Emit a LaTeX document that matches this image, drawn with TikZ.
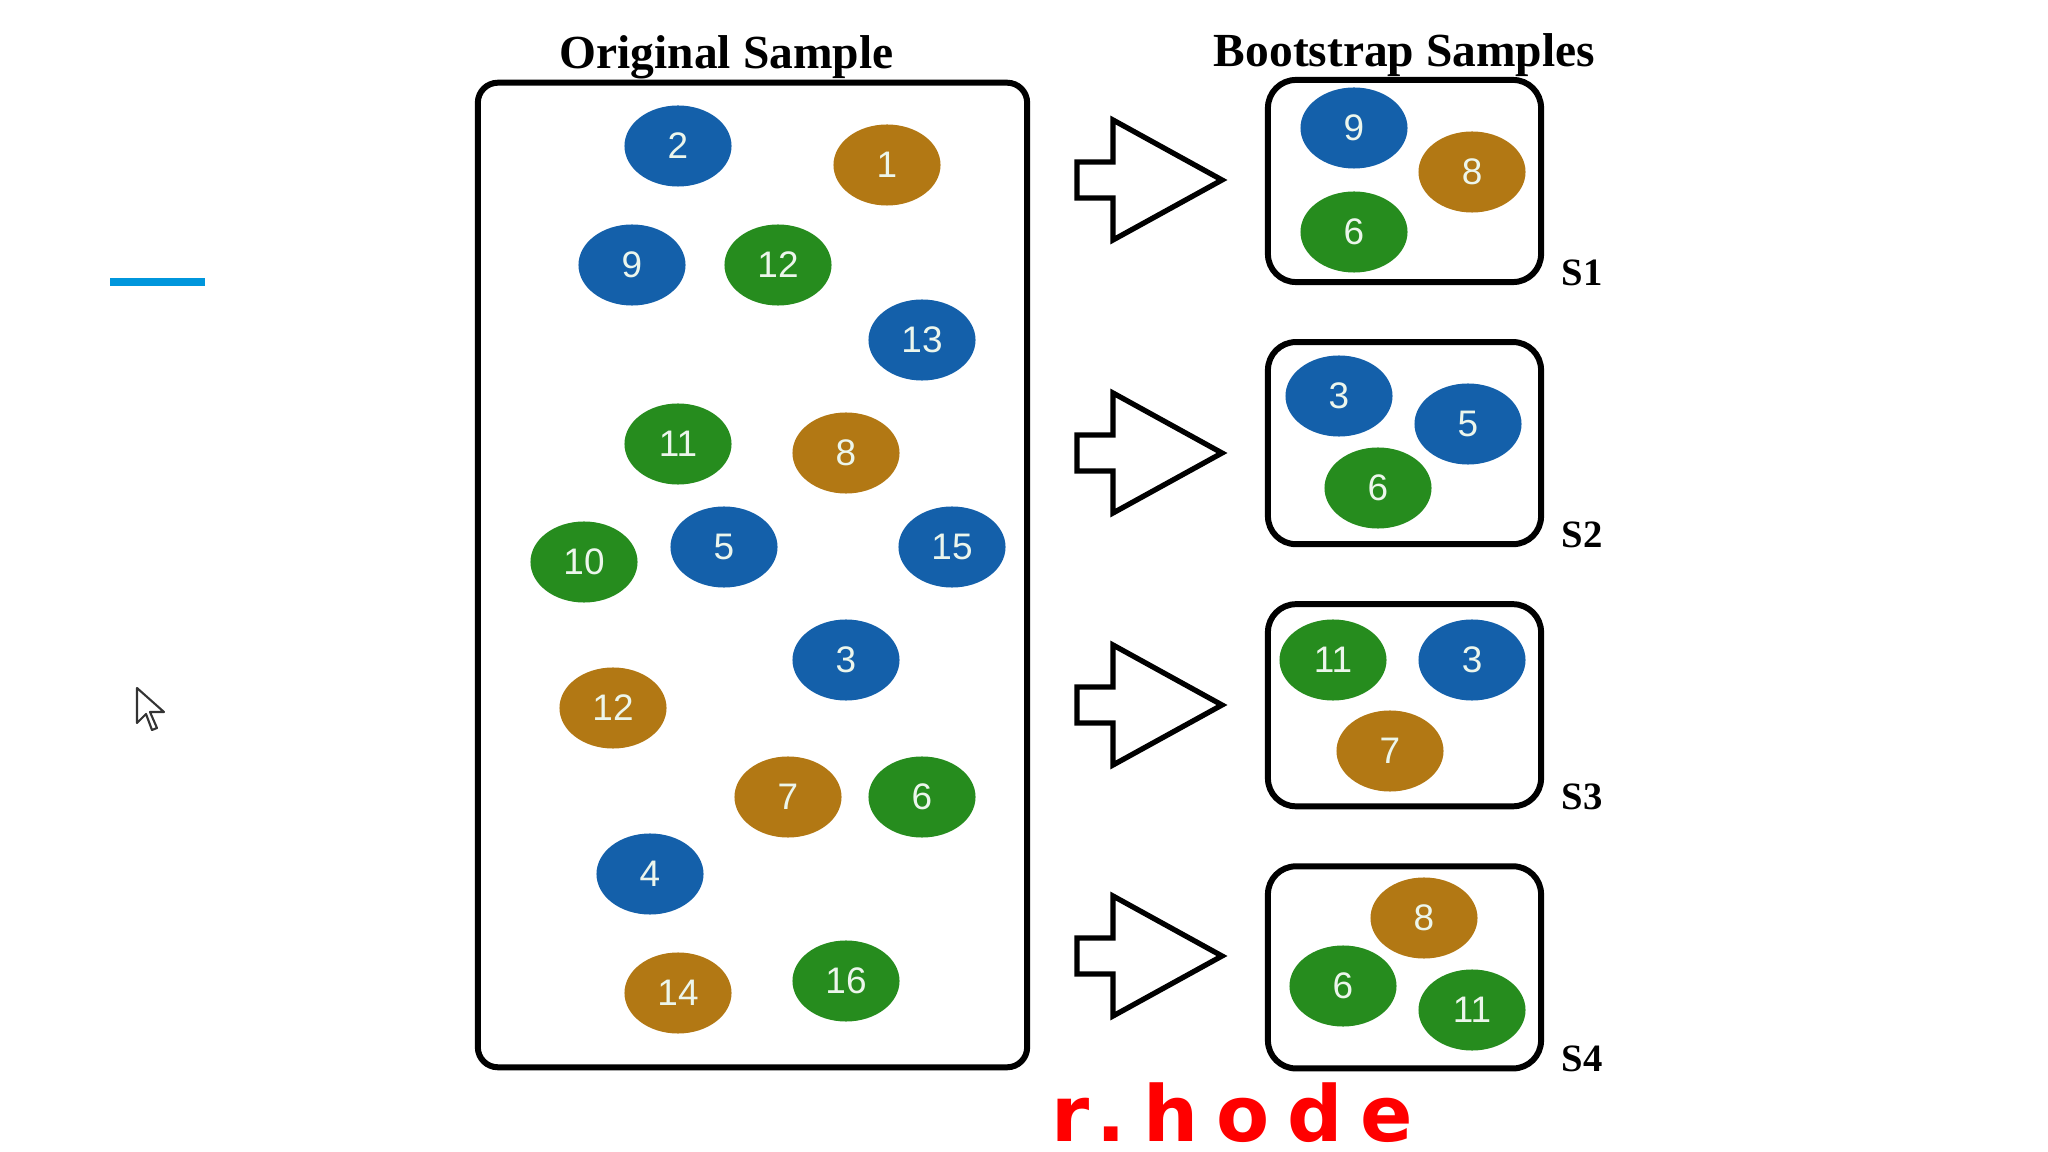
\documentclass[tikz,border=0pt]{standalone}
\usepackage{fontspec}
\setmainfont{Liberation Serif}
\newfontfamily\ballfont{Liberation Sans}
\newfontfamily\handfont{DejaVu Sans}
\usetikzlibrary{positioning, shapes.geometric}

\definecolor{ballblue}{RGB}{20,96,170}
\definecolor{ballbrown}{RGB}{178,120,20}
\definecolor{ballgreen}{RGB}{38,140,30}
\definecolor{barblue}{RGB}{0,150,220}
\definecolor{numtext}{RGB}{236,246,236}

\tikzset{
    ball/.style={ellipse, minimum width=1.07cm, minimum height=0.81cm, inner sep=0pt,
                 text=numtext, font=\ballfont\fontsize{10.5}{10.5}\selectfont},
    blueball/.style={ball, fill=ballblue},
    brownball/.style={ball, fill=ballbrown},
    greenball/.style={ball, fill=ballgreen},
    samplebox/.style={draw, line width=1.7pt, rounded corners=0.28cm,
                      minimum width=2.73cm, minimum height=2.02cm},
    title/.style={font=\bfseries\fontsize{13.5}{14}\selectfont, inner sep=0pt},
    slabel/.style={font=\bfseries\fontsize{11}{11}\selectfont, inner sep=0pt, anchor=base west}
}

\begin{document}
\begin{tikzpicture}[
    x=0.01cm, y=-0.01cm,    % 画素単位で配置
    line join=round
]
    \clip (0,0) rectangle (2048,1152);

    % --- 1. 枠 ---
    \node [samplebox, minimum width=5.49cm, minimum height=9.84cm, rounded corners=0.2cm] (orig) at (752.5,575) {};
    \node [samplebox] (s1) at (1404.5,181) {};
    \node [samplebox, below=0.54cm of s1] (s2) {};
    \node [samplebox, below=0.54cm of s2] (s3) {};
    \node [samplebox, below=0.54cm of s3] (s4) {};

    % 見出し
    \node [title, above=0cm of orig, xshift=-0.26cm] (origtitle) {Original Sample};
    \node [title, above=0cm of s1] (boottitle) {Bootstrap Samples};

    % S1 ... S4
    \foreach \i in {1,...,4}
        \node [slabel] (lab\i) at ([xshift=0.17cm]s\i.south east) {S\i};

    % --- 2. 元のサンプル ---
    \node [blueball]  (o2)   at (678,146) {2};
    \node [brownball] (o1)   at (887,165) {1};
    \node [blueball]  (o9)   at (632,265) {9};
    \node [greenball] (o12g) at (778,265) {12};
    \node [blueball]  (o13)  at (922,340) {13};
    \node [greenball] (o11)  at (678,444) {11};
    \node [brownball] (o8)   at (846,453) {8};
    \node [greenball] (o10)  at (584,562) {10};
    \node [blueball]  (o5)   at (724,547) {5};
    \node [blueball]  (o15)  at (952,547) {15};
    \node [blueball]  (o3)   at (846,660) {3};
    \node [brownball] (o12b) at (613,708) {12};
    \node [brownball] (o7)   at (788,797) {7};
    \node [greenball] (o6)   at (922,797) {6};
    \node [blueball]  (o4)   at (650,874) {4};
    \node [brownball] (o14)  at (678,993) {14};
    \node [greenball] (o16)  at (846,981) {16};

    % --- 3. ブートストラップ標本 ---
    \node [blueball]  (s1a) at (1354,128) {9};
    \node [brownball] (s1b) at (1472,172) {8};
    \node [greenball] (s1c) at (1354,232) {6};

    \node [blueball]  (s2a) at (1339,396) {3};
    \node [blueball]  (s2b) at (1468,424) {5};
    \node [greenball] (s2c) at (1378,488) {6};

    \node [greenball] (s3a) at (1333,660) {11};
    \node [blueball]  (s3b) at (1472,660) {3};
    \node [brownball] (s3c) at (1390,751) {7};

    \node [brownball] (s4a) at (1424,918) {8};
    \node [greenball] (s4b) at (1343,986) {6};
    \node [greenball] (s4c) at (1472,1010) {11};

    % --- 4. 白抜き矢印 ---
    \foreach \y in {180,453,705,956}
        \draw [line width=1.5pt, line join=miter]
            (1077,\y-18) -- (1113,\y-18) -- (1113,\y-60) -- (1222,\y)
            -- (1113,\y+60) -- (1113,\y+18) -- (1077,\y+18) -- cycle;

    % --- 5. 画面上の余分なもの ---
    \fill [barblue] (110,278) rectangle (205,286);
    \draw [line width=0.6pt, fill=white, draw=black!80]
        (137,688) -- (137,723) -- (146,714) -- (152,730) -- (157,728) -- (150,712) -- (164,712) -- cycle;
    \node [anchor=base west, inner sep=0pt, text=red,
           font=\handfont\bfseries\fontsize{22}{22}\selectfont\addfontfeature{LetterSpace=23}]
        (scrawl) at (1051,1141) {r.hode};

\end{tikzpicture}
\end{document}
